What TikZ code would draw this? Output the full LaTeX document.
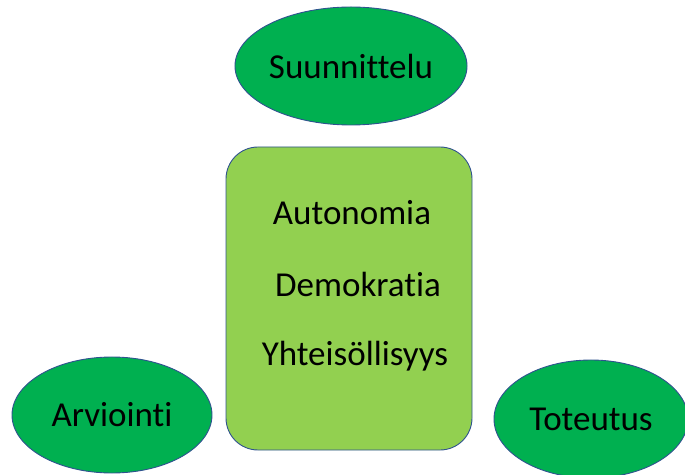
\documentclass[tikz,border=0pt]{standalone}
\usepackage{fontspec}
\setmainfont[Ligatures={NoCommon}]{Carlito}
\usetikzlibrary{shapes.geometric}
\definecolor{darkgreen}{RGB}{0,176,80}
\definecolor{lightgreen}{RGB}{146,208,80}
\definecolor{outline}{RGB}{47,82,143}
\tikzset{
  bubble/.style={ellipse, draw=outline, line width=0.9pt, fill=darkgreen, inner sep=0pt,
    font=\fontsize{35}{40}\selectfont, text=black},
  corebox/.style={rectangle, rounded corners=32pt, draw=outline, line width=0.9pt, fill=lightgreen, inner sep=0pt},
  word/.style={anchor=base, inner sep=0pt, font=\fontsize{35}{40}\selectfont, text=black}
}
\begin{document}
\begin{tikzpicture}[x=1pt,y=1pt]
\useasboundingbox (0,0) rectangle (685,474);
\node[bubble, minimum width=202pt, minimum height=118pt] (suun) at (351,408) {Suunnittelu};
\node[corebox, minimum width=246pt, minimum height=303pt] (core) at (349,175.5) {};
\node[word] (auto) at (352,249) {Autonomia};
\node[word] (demo) at (358,177) {Demokratia};
\node[word] (yht) at (355,109) {Yhteisöllisyys};
\node[bubble, minimum width=200pt, minimum height=116pt] (arv) at (112,59) {Arviointi};
\node[bubble, minimum width=194pt, minimum height=118pt] (tot) at (591,55) {Toteutus};
\end{tikzpicture}
\end{document}
